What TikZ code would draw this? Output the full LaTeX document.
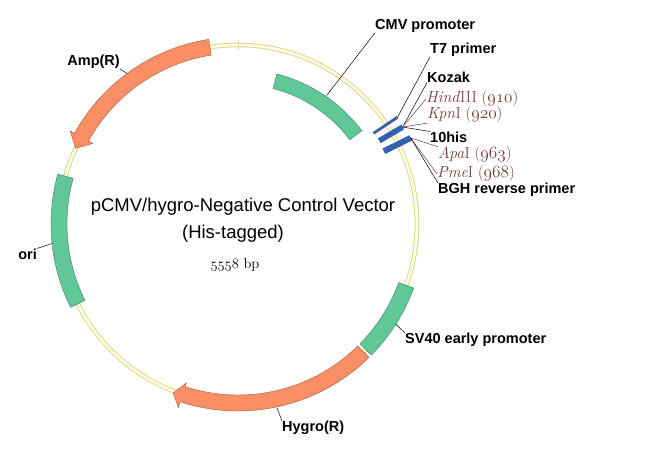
\documentclass[tikz,border=0pt]{standalone}
\usepackage{fontspec}
\setsansfont{Liberation Sans}
\definecolor{ringedge}{RGB}{222,215,135}
\definecolor{ringfill}{RGB}{255,255,232}
\definecolor{bandgreen}{RGB}{95,200,150}
\definecolor{bandorange}{RGB}{250,142,100}
\definecolor{barblue}{RGB}{52,96,176}
\definecolor{sitebrown}{RGB}{112,58,58}

\begin{document}
\begin{tikzpicture}[x=1pt,y=-1pt,
    greenband/.style={fill=bandgreen, draw=bandgreen!65!black, line width=0.4pt},
    orangeband/.style={fill=bandorange, draw=bandorange!65!black, line width=0.4pt},
    bar/.style={draw=barblue, line width=#1},
    lbl/.style={font=\sffamily\bfseries\fontsize{14.5}{16}\selectfont, inner sep=0pt},
    site/.style={font=\fontsize{16}{18}\selectfont, text=sitebrown, inner sep=0pt},
    title/.style={font=\sffamily\fontsize{18.5}{20}\selectfont, inner sep=0pt},
    pin/.style={draw=black, line width=0.5pt},
    sitepin/.style={draw=sitebrown, line width=0.5pt}]
\fill [white] (0,0) rectangle (671,461);
\useasboundingbox (0,0) rectangle (671,461);
\draw [ringedge, line width=1pt, double=ringfill, double distance=2.6pt] (238,224) circle [radius=179];
\begin{scope}[shift={(238,224)}]
\draw [ringedge, line width=0.8pt] (-90:175) -- (-90:183);
\path [orangeband] (-99:187) arc [start angle=-99, end angle=-151, radius=187] -- (-151:192) -- (-155:179) -- (-151:166) -- (-151:171) arc [start angle=-151, end angle=-99, radius=171] -- cycle;
\path [greenband] (153.5:187) arc [start angle=153.5, end angle=195.5, radius=187] -- (195.5:171) arc [start angle=195.5, end angle=153.5, radius=171] -- cycle;
\path [greenband] (20:187) arc [start angle=20, end angle=44.5, radius=187] -- (44.5:171) arc [start angle=44.5, end angle=20, radius=171] -- cycle;
\path [orangeband] (45.5:187) arc [start angle=45.5, end angle=108, radius=187] -- (108:193) -- (111:181) -- (108:167) -- (108:171) arc [start angle=108, end angle=45.5, radius=171] -- cycle;
\path [greenband] (-75.5:155) arc [start angle=-75.5, end angle=-37, radius=155] -- (-37:140) arc [start angle=-37, end angle=-75.5, radius=140] -- cycle;
\draw [bar=2.8pt] (-33.8:163) -- (-33.8:192) coordinate (t7end);
\draw [bar=5.5pt] (-30.5:164) -- (-30.5:191) coordinate (kozakend);
\draw [bar=6pt] (-26.5:163) -- (-26.5:193) coordinate (apaend);
\coordinate (cmvpt) at (-55.4:156);
\coordinate (amppt) at (-126.4:187);
\coordinate (oript) at (174:187);
\coordinate (hygropt) at (78:188);
\coordinate (svpt) at (32.4:187);
\end{scope}
\node [title] (vec) at (243,207) {pCMV/hygro-Negative Control Vector};
\node [title] (tag) at (233,234) {(His-tagged)};
\node [font=\fontsize{14.5}{16}\selectfont, inner sep=0pt] (size) at (235,265) {$\mathnormal{5558}$ bp};
\node [lbl, anchor=west] (cmv) at (375,26) {CMV promoter};
\node [lbl, anchor=west] (t7) at (430,50) {T7 primer};
\node [lbl, anchor=west] (kozak) at (427,77) {Kozak};
\node [site, anchor=west] (hind) at (426,99) {\textit{Hind}III ($\mathnormal{910}$)};
\node [site, anchor=west] (kpn) at (427,115) {\textit{Kpn}I ($\mathnormal{920}$)};
\node [lbl, anchor=west] (his) at (430,137) {10his};
\node [site, anchor=west] (apa) at (438,155) {\textit{Apa}I ($\mathnormal{963}$)};
\node [site, anchor=west] (pme) at (437,174) {\textit{Pme}I ($\mathnormal{968}$)};
\node [lbl, anchor=west] (bgh) at (438,190) {BGH reverse primer};
\node [lbl, anchor=west] (sv) at (405,340) {SV40 early promoter};
\node [lbl, anchor=west] (hygro) at (282,428) {Hygro(R)};
\node [lbl, anchor=east] (ori) at (37,254) {ori};
\node [lbl, anchor=east] (amp) at (120,62) {Amp(R)};
\draw [pin] (cmvpt) -- (cmv.south west);
\draw [pin] (t7end) -- (t7.south west);
\draw [pin] (kozakend) -- (kozak.south west);
\draw [sitepin] (kozakend) -- (hind.west);
\draw [sitepin] (kozakend) -- (kpn.south west);
\draw [pin] (kozakend) -- (his.north west);
\draw [sitepin] (apaend) -- (apa.north west);
\draw [sitepin] (apaend) -- (pme.west);
\draw [pin] (apaend) -- (bgh.north west);
\draw [pin] (svpt) -- (sv.north west);
\draw [pin] (hygropt) -- (hygro.north west);
\draw [pin] (oript) -- (ori.north east);
\draw [pin] (amppt) -- (amp.south east);
\end{tikzpicture}
\end{document}
